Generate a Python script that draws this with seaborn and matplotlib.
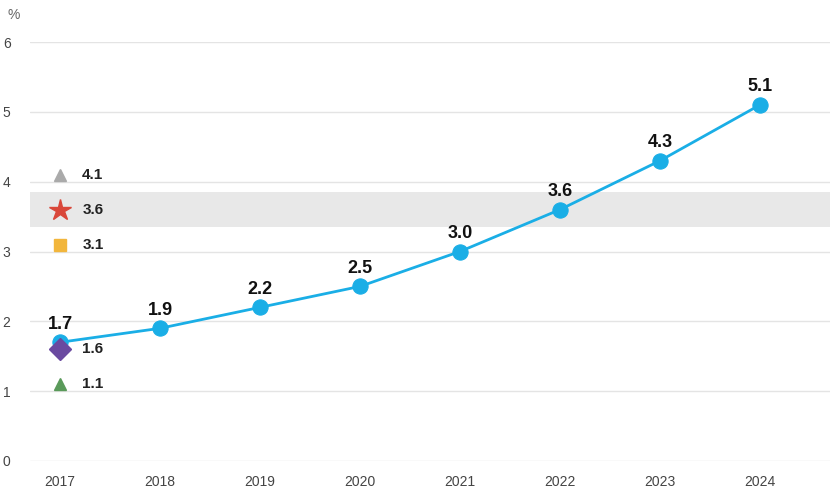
import matplotlib
matplotlib.use('Agg')
import matplotlib.pyplot as plt
import seaborn as sns
import pandas as pd

# Data
years = [2017, 2018, 2019, 2020, 2021, 2022, 2023, 2024]
values = [1.7, 1.9, 2.2, 2.5, 3.0, 3.6, 4.3, 5.1]

# Reference markers in 2017
ref_values = [4.1, 3.6, 3.1, 1.6, 1.1]
ref_markers = ['^', '*', 's', 'D', '^']
ref_colors = ['#aaaaaa', '#d9473a', '#f2b63c', '#6a4aa0', '#5a9a5a']
ref_sizes = [9, 16, 9, 11, 9]

band_low, band_high = 3.35, 3.85

sns.set_style('white')
plt.rcParams['font.family'] = ['Liberation Sans', 'DejaVu Sans']

df = pd.DataFrame({'year': years, 'value': values})

fig = plt.figure(figsize=(8.32, 4.96), dpi=100)
ax = fig.add_axes([30 / 832, 35 / 496, 800 / 832, 419 / 496])

ax.set_xlim(2016.7, 2024.7)
ax.set_ylim(0, 6)

# gridlines
for y in range(0, 7):
    ax.axhline(y, color='#e4e4e4', lw=1, zorder=0)
ax.axhspan(band_low, band_high, color='#e8e8e8', zorder=0.5, lw=0)

sns.lineplot(data=df, x='year', y='value', ax=ax, color='#1aaee6', lw=2,
             marker='o', markersize=11, markeredgecolor='#1aaee6', zorder=3)

for x, v in zip(years, values):
    ax.annotate(f'{v:.1f}', (x, v), xytext=(0, 7), textcoords='offset points',
                ha='center', va='bottom', fontsize=13, fontweight='bold', color='#111111', zorder=5)

for v, m, c, s in zip(ref_values, ref_markers, ref_colors, ref_sizes):
    ax.plot(years[0], v, marker=m, color=c, markersize=s, ls='none', zorder=4)
    ax.annotate(f'{v:.1f}', (years[0], v), xytext=(16, 0), textcoords='offset points',
                ha='left', va='center', fontsize=11, fontweight='bold', color='#222222', zorder=5)

ax.set_xticks(years)
ax.set_xticklabels([str(y) for y in years])
ax.set_yticks(range(0, 7))
ax.tick_params(axis='both', length=0, labelsize=10, colors='#444444')
ax.tick_params(axis='y', pad=14)
ax.tick_params(axis='x', pad=10)
ax.set_xlabel('')
ax.set_ylabel('')
sns.despine(ax=ax, left=True, bottom=True)
fig.text(14 / 832, 1 - 15 / 496, '%', fontsize=10, color='#666666', ha='center', va='center')

fig.savefig('out.png', dpi=100)
